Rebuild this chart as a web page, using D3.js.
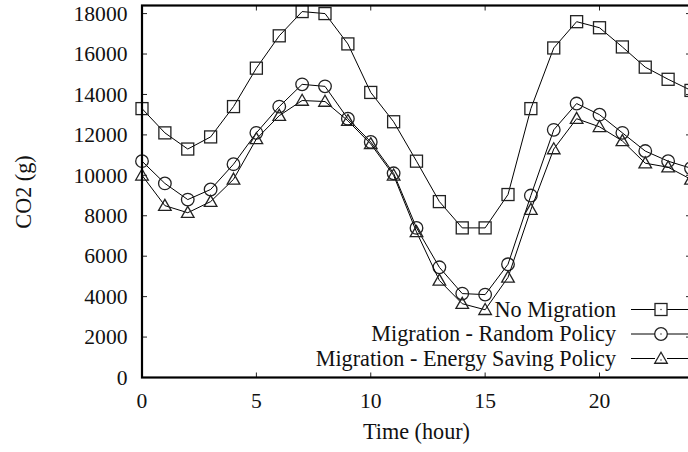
<!DOCTYPE html>
<html>
<head>
<meta charset="utf-8">
<script src="https://cdn.jsdelivr.net/npm/d3@7"></script>
<style>
  html, body { margin: 0; padding: 0; background: #fff; }
  svg { display: block; }
  text { font-family: "Liberation Serif", "Times New Roman", Times, serif; fill: #111; }
</style>
</head>
<body>
<svg id="chart" width="688" height="452"></svg>
<script>
// Hourly CO2 emissions over one day for three migration strategies
const hours = [0,1,2,3,4,5,6,7,8,9,10,11,12,13,14,15,16,17,18,19,20,21,22,23,24];
const noMigration = [13300,12100,11300,11900,13400,15300,16900,18100,18000,16500,14100,12650,10700,8700,7400,7400,9050,13300,16300,17600,17300,16350,15350,14750,14200];
const randomPolicy = [10700,9600,8800,9300,10550,12100,13400,14500,14400,12800,11650,10100,7400,5450,4150,4100,5600,9000,12250,13550,13000,12100,11200,10700,10350];
const energySaving = [10000,8500,8150,8700,9800,11800,12950,13700,13650,12700,11550,10000,7200,4800,3650,3350,4950,8300,11300,12800,12400,11700,10600,10400,9800];

const seriesNames = ["No Migration", "Migration - Random Policy", "Migration - Energy Saving Policy"];
const seriesValues = [noMigration, randomPolicy, energySaving];
const markerKinds = ["square", "circle", "triangle"];

const xTicks = [0, 5, 10, 15, 20];
const yTicks = [0, 2000, 4000, 6000, 8000, 10000, 12000, 14000, 16000, 18000];
const xDomain = [0, 24];
const yDomain = [0, 18400];

const svg = d3.select("#chart");
const plotLeft = 142, plotRight = 691, plotTop = 5.5, plotBottom = 377.5;
const tickFont = 21.6;
const labelFont = 22.2;

const x = d3.scaleLinear().domain(xDomain).range([plotLeft, plotRight]);
const y = d3.scaleLinear().domain(yDomain).range([plotBottom, plotTop]);

// Inward ticks on all four sides, labels on left and bottom only
const tickLen = 5;
const tickG = svg.append("g").attr("stroke", "#222").attr("stroke-width", 1);
xTicks.forEach(t => {
  tickG.append("line").attr("x1", x(t)).attr("x2", x(t)).attr("y1", plotBottom).attr("y2", plotBottom - tickLen);
  tickG.append("line").attr("x1", x(t)).attr("x2", x(t)).attr("y1", plotTop).attr("y2", plotTop + tickLen);
});
yTicks.forEach(t => {
  tickG.append("line").attr("x1", plotLeft).attr("x2", plotLeft + tickLen).attr("y1", y(t)).attr("y2", y(t));
  tickG.append("line").attr("x1", plotRight).attr("x2", plotRight - tickLen).attr("y1", y(t)).attr("y2", y(t));
});

svg.append("g").selectAll("text").data(xTicks).join("text")
  .attr("x", d => x(d)).attr("y", 408)
  .attr("text-anchor", "middle").attr("font-size", tickFont)
  .text(d => d);

svg.append("g").selectAll("text").data(yTicks).join("text")
  .attr("x", 127.5).attr("y", d => y(d) + 7.3)
  .attr("text-anchor", "end").attr("font-size", tickFont)
  .text(d => d);

// Axis titles
svg.append("text")
  .attr("x", (plotLeft + plotRight) / 2).attr("y", 439)
  .attr("text-anchor", "middle").attr("font-size", labelFont)
  .text("Time (hour)");
svg.append("text")
  .attr("transform", "translate(31,192) rotate(-90)")
  .attr("text-anchor", "middle").attr("font-size", labelFont)
  .text("CO2 (g)");

// Marker shapes
function drawMarker(g, kind, cx, cy) {
  const common = el => el.attr("fill", "none").attr("stroke", "#222").attr("stroke-width", 1.3);
  if (kind === "square") {
    common(g.append("rect").attr("x", cx - 6).attr("y", cy - 6).attr("width", 12).attr("height", 12));
  } else if (kind === "circle") {
    common(g.append("circle").attr("cx", cx).attr("cy", cy).attr("r", 6.3));
  } else {
    const s = 6.3;
    common(g.append("path").attr("d", `M${cx},${cy - s}L${cx + s},${cy + s * 0.75}L${cx - s},${cy + s * 0.75}Z`));
  }
}

const line = d3.line().x((d, i) => x(hours[i])).y(d => y(d));

const plot = svg.append("g");
seriesValues.forEach((vals, si) => {
  plot.append("path").datum(vals)
    .attr("d", line)
    .attr("fill", "none").attr("stroke", "#000").attr("stroke-width", 1);
  const mg = plot.append("g");
  vals.forEach((v, i) => drawMarker(mg, markerKinds[si], x(hours[i]), y(v)));
});

// Legend, bottom right inside the plot: sample line broken at the marker
const legendRows = [309.5, 334, 358.5];
const legendMarkerX = 661;
const legend = svg.append("g");
seriesNames.forEach((name, i) => {
  const ly = legendRows[i];
  legend.append("text")
    .attr("x", 616).attr("y", ly + 7.4)
    .attr("text-anchor", "end").attr("font-size", labelFont)
    .text(name);
  legend.append("line").attr("x1", 631).attr("x2", legendMarkerX - 6).attr("y1", ly).attr("y2", ly)
    .attr("stroke", "#000").attr("stroke-width", 1);
  legend.append("line").attr("x1", legendMarkerX + 6).attr("x2", 690).attr("y1", ly).attr("y2", ly)
    .attr("stroke", "#000").attr("stroke-width", 1);
  const mg = legend.append("g");
  drawMarker(mg, markerKinds[i], legendMarkerX, ly);
  mg.append("circle").attr("cx", legendMarkerX).attr("cy", ly + (i === 2 ? 1.5 : 0)).attr("r", 0.7).attr("fill", "#222");
});

// Plot border
svg.append("rect")
  .attr("x", plotLeft).attr("y", plotTop)
  .attr("width", plotRight - plotLeft).attr("height", plotBottom - plotTop)
  .attr("fill", "none").attr("stroke", "#000").attr("stroke-width", 2.2);
</script>
</body>
</html>
